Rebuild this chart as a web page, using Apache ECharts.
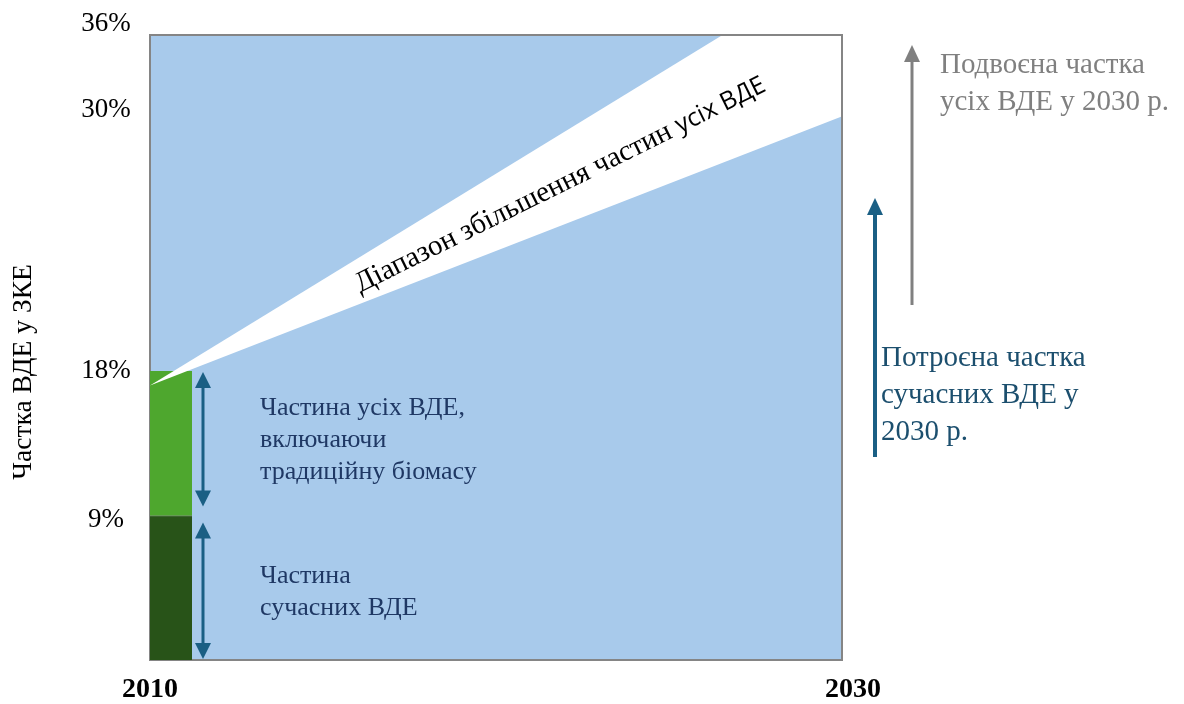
<!DOCTYPE html>
<html>
<head>
<meta charset="utf-8">
<script src="https://cdn.jsdelivr.net/npm/echarts@6/dist/echarts.min.js"></script>
<style>
  html, body { margin: 0; padding: 0; background: #ffffff; }
  #chart { width: 1184px; height: 704px; }
</style>
</head>
<body>
<div id="chart"></div>
<script>
// Years on the horizontal axis
const years = [2010, 2030];
// Shares (%) marked on the vertical axis
const yTicks = [9, 18, 30, 36];
// 2010 shares: modern renewables (0–9 %), all renewables incl. traditional biomass (9–18 %)
const shareSegments2010 = [[0, 9], [9, 18]];
// Range of growth of the share of all renewables up to 2030
const rangeStart = [2010, 17.1];
const rangeUpper = [[2026.5, 36], [2030, 36]];
const rangeLower = [2030, 30];

// Texts
const segmentLabels = ['Частина\nсучасних ВДЕ', 'Частина усіх ВДЕ,\nвключаючи\nтрадиційну біомасу'];
const rangeLabelSerif = 'Діапазон збільшення частин ';
const rangeLabelSans = 'усіх ВДЕ';
const yAxisTitle = 'Частка ВДЕ у ЗКЕ';
const doubledLabel = 'Подвоєна частка\nусіх ВДЕ у 2030 р.';
const tripledLabel = 'Потроєна частка\nсучасних ВДЕ у\n2030 р.';

// Schematic, piecewise-linear vertical scale: share (%) -> axis position
const scalePct = [0, 9, 18, 30, 36];
const scalePos = [0, 8.33, 16.65, 31.29, 36];
function toAxis(p) {
  for (let i = 1; i < scalePct.length; i++) {
    if (p <= scalePct[i]) {
      const t = (p - scalePct[i - 1]) / (scalePct[i] - scalePct[i - 1]);
      return scalePos[i - 1] + t * (scalePos[i] - scalePos[i - 1]);
    }
  }
  return scalePos[scalePos.length - 1];
}
const tickLabelByPos = {};
yTicks.forEach(p => { tickLabelByPos[toAxis(p).toFixed(3)] = p; });

const SERIF = '"Liberation Serif", "DejaVu Serif", serif';
const SANS = '"Open Sans", "Noto Sans", "Liberation Sans", sans-serif';
const BAR_W = 42;
const SEG_COLORS = ['#285318', '#4ea72e'];
const ARROW_COLOR = '#1a5f84';
const ARROW_INSETS = [[1, 7], [9, 1]];

const chart = echarts.init(document.getElementById('chart'), null, { renderer: 'canvas' });

function arrowHead(x, y, dir, color) {
  // dir = -1 points up, +1 points down; (x, y) is the tip
  return {
    type: 'polygon',
    shape: { points: [[x, y], [x - 8, y - dir * 16], [x + 8, y - dir * 16]] },
    style: { fill: color }
  };
}

const tickRich = (pad) => ({ fontFamily: SERIF, fontSize: 27, color: '#000', padding: pad });

const option = {
  backgroundColor: '#ffffff',
  animation: false,
  grid: {
    left: 150, right: 342, top: 35, bottom: 42,
    show: true,
    backgroundColor: '#a8caeb',
    borderColor: '#858585',
    borderWidth: 2
  },
  xAxis: {
    type: 'value',
    min: years[0],
    max: years[1],
    axisLine: { show: false },
    axisTick: { show: false },
    splitLine: { show: false },
    axisLabel: {
      customValues: years,
      margin: 16,
      color: '#000000',
      fontFamily: SERIF,
      fontWeight: 'bold',
      fontSize: 28,
      formatter: v => v === years[1] ? '{r|' + v + '}' : '{l|' + v + '}',
      rich: {
        l: { fontFamily: SERIF, fontWeight: 'bold', fontSize: 28, color: '#000' },
        r: { fontFamily: SERIF, fontWeight: 'bold', fontSize: 28, color: '#000', padding: [0, 0, 20, 22] }
      }
    }
  },
  yAxis: {
    type: 'value',
    min: 0,
    max: scalePos[scalePos.length - 1],
    axisLine: { show: false },
    axisTick: { show: false },
    splitLine: { show: false },
    axisLabel: {
      customValues: yTicks.map(toAxis),
      margin: 44,
      align: 'center',
      formatter: v => {
        const p = tickLabelByPos[v.toFixed(3)];
        const key = { 36: 'a', 30: 'b', 18: 'n', 9: 'c' }[p];
        return '{' + key + '|' + p + '%}';
      },
      rich: {
        n: tickRich([0, 0, 0, 0]),
        a: tickRich([0, 0, 22, 0]),
        b: tickRich([0, 0, 14, 0]),
        c: tickRich([10, 0, 0, 0])
      }
    }
  },
  series: [
    {
      // 2010 stacked shares
      type: 'custom',
      z: 2,
      data: shareSegments2010.map(([a, b], i) => [years[0], toAxis(a), toAxis(b), i]),
      renderItem: (params, api) => {
        const lo = api.coord([api.value(0), api.value(1)]);
        const hi = api.coord([api.value(0), api.value(2)]);
        const i = api.value(3);
        const children = [{
          type: 'rect',
          shape: { x: lo[0], y: hi[1], width: BAR_W, height: lo[1] - hi[1] },
          style: { fill: SEG_COLORS[i] }
        }];
        if (i === 0) {
          children.push({
            type: 'line',
            shape: { x1: lo[0], y1: hi[1], x2: lo[0] + BAR_W, y2: hi[1] },
            style: { stroke: '#7d8f78', lineWidth: 1.5 }
          });
        }
        return { type: 'group', children };
      }
    },
    {
      // Range of growth (white wedge) with its label
      type: 'custom',
      z: 3,
      data: [[0]],
      renderItem: (params, api) => {
        const tip = api.coord([rangeStart[0], toAxis(rangeStart[1])]);
        const up = rangeUpper.map(([yr, p]) => api.coord([yr, toAxis(p)]));
        const low = api.coord([rangeLower[0], toAxis(rangeLower[1])]);
        const cs = params.coordSys;
        const topY = cs.y + 1;
        const rightX = cs.x + cs.width - 1;
        const pts = [tip]
          .concat(up.map(q => [Math.min(q[0], rightX), Math.max(q[1], topY)]))
          .concat([[Math.min(low[0], rightX), low[1]]]);
        const a1 = Math.atan2(tip[1] - up[0][1], up[0][0] - tip[0]);
        const a2 = Math.atan2(tip[1] - low[1], low[0] - tip[0]);
        const ang = (a1 + a2) / 2;
        const tx = tip[0] + 0.593 * (low[0] - tip[0]);
        const ty = tip[1] - (tx - tip[0]) * Math.tan(ang) + 3;
        return {
          type: 'group',
          children: [
            { type: 'polygon', shape: { points: pts }, style: { fill: '#ffffff' } },
            {
              type: 'text',
              x: tx, y: ty,
              rotation: ang,
              style: {
                text: '{s|' + rangeLabelSerif + '}{t|' + rangeLabelSans + '}',
                align: 'center',
                verticalAlign: 'middle',
                rich: {
                  s: { fontFamily: SERIF, fontSize: 29, fill: '#000' },
                  t: { fontFamily: SANS, fontSize: 25, fill: '#000' }
                }
              }
            }
          ]
        };
      }
    },
    {
      // Double-headed arrows beside the 2010 shares, with their labels
      type: 'custom',
      z: 4,
      data: shareSegments2010.map(([a, b], i) => [years[0], toAxis(a), toAxis(b), i]),
      renderItem: (params, api) => {
        const lo = api.coord([api.value(0), api.value(1)]);
        const hi = api.coord([api.value(0), api.value(2)]);
        const i = api.value(3);
        const x = lo[0] + BAR_W + 11;
        const yTop = hi[1] + ARROW_INSETS[i][1];
        const yBot = lo[1] - ARROW_INSETS[i][0];
        return {
          type: 'group',
          children: [
            {
              type: 'line',
              shape: { x1: x, y1: yTop + 12, x2: x, y2: yBot - 12 },
              style: { stroke: ARROW_COLOR, lineWidth: 3 }
            },
            arrowHead(x, yTop, -1, ARROW_COLOR),
            arrowHead(x, yBot, 1, ARROW_COLOR),
            {
              type: 'text',
              x: x + 57,
              y: (yTop + yBot) / 2 + 1,
              style: {
                text: segmentLabels[i],
                fontFamily: SERIF,
                fontSize: 26,
                lineHeight: 32,
                fill: '#1f3864',
                align: 'left',
                verticalAlign: 'middle'
              }
            }
          ]
        };
      }
    }
  ],
  graphic: [
    {
      type: 'text',
      x: 24, y: 372,
      rotation: Math.PI / 2,
      style: {
        text: yAxisTitle,
        fontFamily: SERIF,
        fontSize: 27.5,
        fill: '#000',
        align: 'center',
        verticalAlign: 'middle'
      }
    },
    // Doubling arrow and note
    {
      type: 'line',
      shape: { x1: 912, y1: 305, x2: 912, y2: 58 },
      style: { stroke: '#808080', lineWidth: 3 }
    },
    {
      type: 'polygon',
      shape: { points: [[912, 45], [904, 62], [920, 62]] },
      style: { fill: '#808080' }
    },
    {
      type: 'text',
      x: 940, y: 84,
      style: {
        text: doubledLabel,
        fontFamily: SERIF,
        fontSize: 29,
        lineHeight: 37,
        fill: '#808080',
        align: 'left',
        verticalAlign: 'middle'
      }
    },
    // Tripling arrow and note
    {
      type: 'line',
      shape: { x1: 875, y1: 457, x2: 875, y2: 210 },
      style: { stroke: ARROW_COLOR, lineWidth: 4 }
    },
    {
      type: 'polygon',
      shape: { points: [[875, 198], [867, 215], [883, 215]] },
      style: { fill: ARROW_COLOR }
    },
    {
      type: 'text',
      x: 881, y: 395,
      style: {
        text: tripledLabel,
        fontFamily: SERIF,
        fontSize: 29,
        lineHeight: 37,
        fill: '#1c4f6e',
        align: 'left',
        verticalAlign: 'middle'
      }
    }
  ]
};

chart.setOption(option);
</script>
</body>
</html>
